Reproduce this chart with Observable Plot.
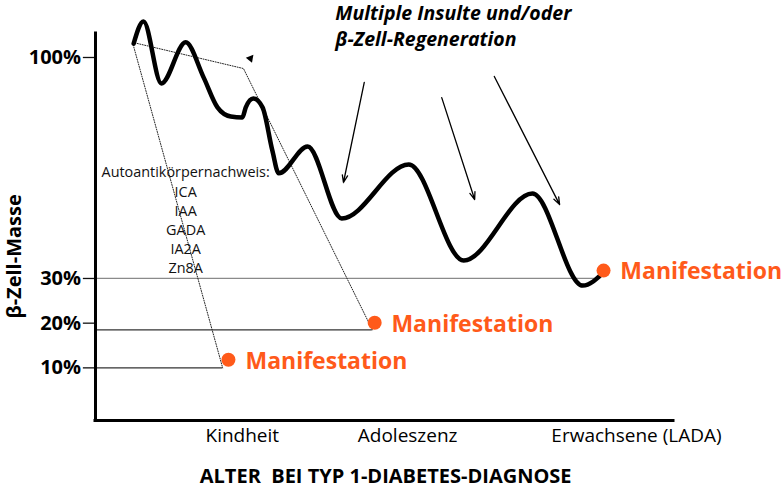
<!DOCTYPE html>
<html><head><meta charset="utf-8">
<script src="https://cdn.jsdelivr.net/npm/d3@7"></script>
<script src="https://cdn.jsdelivr.net/npm/@observablehq/plot@0.6"></script>
<style>body{margin:0;background:#fff}</style>
</head><body><div id="chart"></div>
<script>
// β-cell mass curve (schematic), x = age units 0..100, y = % β-cell mass
const curveX = [6.6, 8.3, 11.4, 15.6, 18.7, 21.1, 23.4, 25.4, 26.0, 27.3, 28.9, 30.6, 31.7, 36.7, 42.6, 54.2, 63.7, 75.6, 84.3, 87.9];
const curveY = [104.4, 111.4, 91.8, 104.8, 93.7, 84.2, 81.3, 81.0, 84.2, 87.0, 84.2, 70.5, 63.3, 71.8, 49.0, 66.1, 35.7, 56.9, 28.4, 31.9];

// dotted guide lines
const dotAX = [6.4, 22.0], dotAY = [104.8, 10];
const dotBX = [6.4, 25.6, 47.9], dotBY = [104.8, 96.5, 18.5];

// threshold lines
const hLineY = [30, 18.5, 10];
const hLineX2 = [87.4, 47.9, 22.0];
const hLineColor = ["#8a8a8a", "#333", "#333"];

// manifestation points
const manX = [23.0, 48.3, 87.9];
const manY = [11.8, 20.1, 32.5];
const manLabelX = [25.95, 51.2, 90.8];
const manLabelY = [11.5, 19.7, 32.2];

// arrows
const arrowX1 = [46.5, 59.9, 69.0], arrowY1 = [92.1, 87.3, 94.0];
const arrowX2 = [42.9, 65.6, 80.3], arrowY2 = [60.4, 55.0, 53.4];

// axes
const yTicks = [10, 20, 30, 100];
const yTickLabels = ["10%", "20%", "30%", "100%"];
const catNames = ["Kindheit", "Adoleszenz", "Erwachsene (LADA)"];
const catX = [25.4, 54.0, 93.6];

// annotation texts
const antibodyLines = ["Autoantikörpernachweis:", "ICA", "IAA", "GADA", "IA2A", "Zn8A"];
const antibodyY = [63.6, 57.2, 51.2, 45.2, 39.2, 33.2];
const insultLines = ["Multiple Insulte und/oder", "β-Zell-Regeneration"];
const insultY = [113.9, 105.7];

const orange = "#ff5a1a";
const font = "'Open Sans', 'Noto Sans', sans-serif";

// schematic axis: above 30 % the percentage axis is compressed
const cy = v => v <= 30 ? v : 30 + (v - 30) * 0.7063;

const curve = curveX.map((x, i) => ({x, y: cy(curveY[i])}));
const dotA = dotAX.map((x, i) => ({x, y: cy(dotAY[i])}));
const dotB = dotBX.map((x, i) => ({x, y: cy(dotBY[i])}));
const hLines = hLineY.map((y, i) => ({y: cy(y), x2: hLineX2[i], c: hLineColor[i]}));
const mans = manX.map((x, i) => ({x, y: cy(manY[i]), lx: manLabelX[i], ly: cy(manLabelY[i])}));
const arrows = arrowX1.map((x1, i) => ({x1, y1: cy(arrowY1[i]), x2: arrowX2[i], y2: cy(arrowY2[i])}));
const antibodies = antibodyLines.map((t, i) => ({t, y: cy(antibodyY[i])}));
const insults = insultLines.map((t, i) => ({t, y: cy(insultY[i])}));
const ticks = yTicks.map((v, i) => ({y: cy(v), label: yTickLabels[i]}));

const chart = Plot.plot({
  width: 783,
  height: 489,
  marginLeft: 95,
  marginRight: 0,
  marginTop: 0,
  marginBottom: 68,
  style: {fontFamily: font, background: "#fff", color: "#000"},
  x: {domain: [0, 100], range: [95, 673], axis: null},
  y: {domain: [-2, cy(107.6)], range: [421, 33], axis: null},
  marks: [
    // threshold lines
    Plot.ruleY(hLines, {y: "y", x1: 0, x2: "x2", stroke: "c", strokeWidth: 1.3}),
    // dotted lines
    Plot.line(dotA, {x: "x", y: "y", stroke: "#222", strokeWidth: 1, strokeDasharray: "1,1.5"}),
    Plot.line(dotB, {x: "x", y: "y", stroke: "#222", strokeWidth: 1, strokeDasharray: "1,1.5"}),
    Plot.dot([{x: 26.8, y: cy(99.7)}], {x: "x", y: "y", symbol: "triangle", r: 3, fill: "#000", rotate: -80}),
    // y axis ticks + labels
    Plot.ruleY(ticks, {y: "y", x1: -2.1, x2: 0, stroke: "#111", strokeWidth: 1.3}),
    Plot.text(ticks, {x: -2.5, y: "y", text: "label", textAnchor: "end", fontSize: 20, fontWeight: "bold"}),
    // axis lines
    Plot.ruleX([0], {y1: -1.8, y2: cy(107.6), strokeWidth: 3, strokeLinecap: "square"}),
    Plot.ruleY([-1.8], {x1: 0, x2: 100, strokeWidth: 3, strokeLinecap: "square"}),
    // x category labels
    Plot.axisX({ticks: catX, tickFormat: (d, i) => catNames[i], tickSize: 0, tickPadding: 7, fontSize: 19}),
    // main curve
    Plot.line(curve, {x: "x", y: "y", curve: "monotone-x", stroke: "#000", strokeWidth: 4.5, strokeLinecap: "round", strokeLinejoin: "round"}),
    // arrows
    Plot.arrow(arrows, {x1: "x1", y1: "y1", x2: "x2", y2: "y2", stroke: "#000", strokeWidth: 1.3, headLength: 9, headAngle: 40, bend: 0}),
    // manifestation dots and labels
    Plot.dot(mans, {x: "x", y: "y", r: 7, fill: orange}),
    Plot.text(mans, {x: "lx", y: "ly", text: () => "Manifestation", fill: orange, fontSize: 23, fontWeight: "bold", textAnchor: "start"}),
    // antibody text
    Plot.text(antibodies, {x: 15.6, y: "y", text: "t", fontSize: 14.4, fill: "#111"}),
    // insult text
    Plot.text(insults, {x: 41.5, y: "y", text: "t", fontSize: 19.5, fontWeight: "bold", fontStyle: "italic", textAnchor: "start"}),
    // axis titles
    Plot.text(["β-Zell-Masse"], {x: -14.0, y: cy(37.0), text: d => d, rotate: -90, fontSize: 20, fontWeight: "bold"}),
    Plot.text(["ALTER\u00A0 BEI TYP 1-DIABETES-DIAGNOSE"], {x: 50.2, y: -14.3, text: d => d, fontSize: 20, fontWeight: "bold"})
  ]
});
document.getElementById("chart").appendChild(chart);
</script>
</body></html>
